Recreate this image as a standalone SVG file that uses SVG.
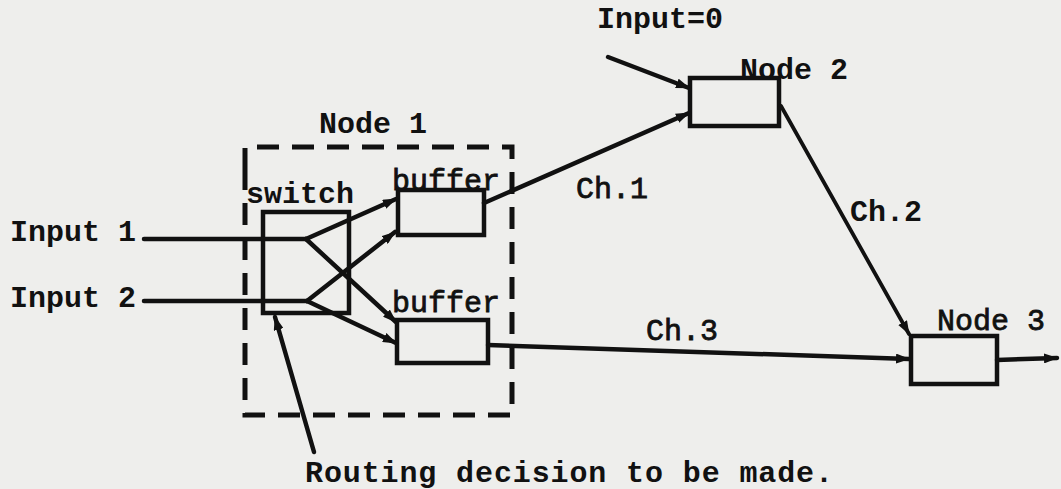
<svg xmlns="http://www.w3.org/2000/svg" width="1061" height="489" viewBox="0 0 1061 489">
  <style>
    .lbl { font-family: "Liberation Mono", "DejaVu Sans Mono", monospace; font-size: 30px; fill: #111; }
    .b { font-weight: bold; }
    .r { stroke: #111; stroke-width: 0.8; }
    .box { fill: none; stroke: #111; stroke-width: 4.5; stroke-linejoin: miter; }
    .ln { fill: none; stroke: #111; stroke-width: 4.5; stroke-linecap: round; }
    .thin { stroke-width: 3.8; }
    .dash { fill: none; stroke: #111; stroke-width: 5; stroke-dasharray: 22 13; }
  </style>
  <defs>
    <marker id="ah" viewBox="0 0 14 10" refX="13" refY="5" markerWidth="14" markerHeight="10" markerUnits="userSpaceOnUse" orient="auto">
      <path d="M0,0 L14,5 L0,10 z" fill="#111"/>
    </marker>
  </defs>
  <rect x="0" y="0" width="1061" height="489" fill="#eeeeec"/>

  <g id="node1">
    <path class="dash" d="M245,170 L245,147 L512,147 L512,415 L245,415 L245,170"/>
    <text class="lbl b" x="319" y="133">Node 1</text>
  </g>

  <g id="switch">
    <rect class="box" x="263" y="212" width="86" height="101"/>
    <text class="lbl b" x="246" y="203">switch</text>
  </g>

  <g id="buffer1">
    <rect class="box" x="398" y="190" width="86" height="45"/>
    <text class="lbl r" x="392" y="190">buffer</text>
  </g>

  <g id="buffer2">
    <rect class="box" x="397" y="320" width="91" height="43"/>
    <text class="lbl r" x="392" y="312">buffer</text>
  </g>

  <g id="node2">
    <rect class="box" x="690" y="78" width="89" height="48"/>
    <text class="lbl b" x="740" y="79">Node 2</text>
  </g>

  <g id="node3">
    <rect class="box" x="911" y="336" width="86" height="48"/>
    <text class="lbl r" x="937" y="330">Node 3</text>
  </g>

  <g id="inputs">
    <text class="lbl b" x="10" y="241">Input 1</text>
    <text class="lbl b" x="10" y="307">Input 2</text>
    <text class="lbl b" x="597" y="28">Input=0</text>
  </g>

  <g id="connectors">
    <polyline class="ln" points="144,239 306,239"/>
    <line class="ln" x1="306" y1="239" x2="396" y2="199" marker-end="url(#ah)"/>
    <line class="ln" x1="306" y1="239" x2="396" y2="322" marker-end="url(#ah)"/>
    <polyline class="ln" points="144,301 307,301"/>
    <line class="ln" x1="307" y1="301" x2="395" y2="232" marker-end="url(#ah)"/>
    <line class="ln" x1="307" y1="301" x2="396" y2="343" marker-end="url(#ah)"/>
    <line class="ln" x1="484" y1="203" x2="689" y2="113" marker-end="url(#ah)"/>
    <line class="ln" x1="608" y1="57" x2="689" y2="88" stroke-width="6" marker-end="url(#ah)"/>
    <line class="ln thin" x1="781" y1="106" x2="909" y2="334" marker-end="url(#ah)"/>
    <line class="ln" x1="488" y1="345" x2="909" y2="359" marker-end="url(#ah)"/>
    <line class="ln" x1="997" y1="360" x2="1057" y2="358" marker-end="url(#ah)"/>
    <line class="ln" x1="314" y1="452" x2="275" y2="317" marker-end="url(#ah)"/>
  </g>

  <g id="labels">
    <text class="lbl r" x="576" y="198">Ch.1</text>
    <text class="lbl b" x="850" y="221">Ch.2</text>
    <text class="lbl r" x="646" y="340">Ch.3</text>
    <text class="lbl b" x="305" y="482" textLength="528" lengthAdjust="spacing">Routing decision to be made.</text>
  </g>
</svg>
